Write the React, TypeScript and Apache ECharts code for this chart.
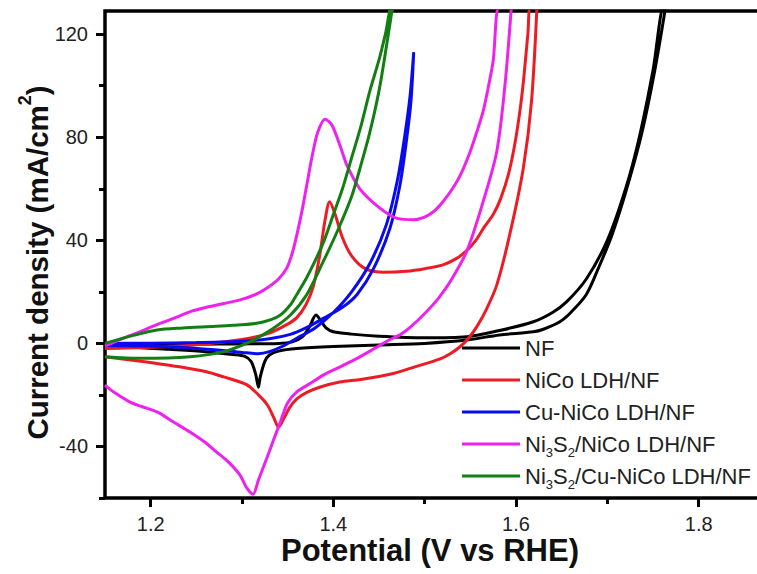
import React, { useEffect, useRef } from "react";
import * as echarts from "echarts";

const seriesNames = [
  "NF",
  "NiCo LDH/NF",
  "Cu-NiCo LDH/NF",
  "Ni3S2/NiCo LDH/NF",
  "Ni3S2/Cu-NiCo LDH/NF",
];
const seriesColors = ["#000000", "#ec1c24", "#0a0aee", "#ee22ee", "#137f13"];

const xLabelValues = [1.2, 1.4, 1.6, 1.8];
const xMinorTicks = [1.3, 1.5, 1.7];
const yLabelValues = [-40, 0, 40, 80, 120];
const yMinorTicks = [-60, -20, 20, 60, 100];

const nfCurve: [number, number][] = [
  [1.15, -0.5], [1.2, -0.4], [1.25, -0.3], [1.3, -0.2], [1.34, 0], [1.355, 0.6], [1.366, 2.5],
  [1.374, 6.5], [1.381, 11], [1.386, 9], [1.392, 6], [1.4, 4.5], [1.42, 3.6], [1.45, 2.8],
  [1.5, 2.2], [1.546, 2.6], [1.582, 5], [1.619, 8.4], [1.64, 12], [1.655, 16], [1.677, 25],
  [1.7, 40], [1.72, 60], [1.735, 80], [1.75, 106], [1.762, 131],
  [1.764, 131], [1.752, 106], [1.738, 82], [1.722, 61], [1.705, 42], [1.69, 29], [1.677, 19],
  [1.66, 12], [1.648, 8.4], [1.63, 5.5], [1.619, 4.5], [1.582, 3.3], [1.546, 1.3], [1.5, 0],
  [1.45, -0.6], [1.4, -1.2], [1.36, -2], [1.34, -3], [1.33, -4.5], [1.325, -7], [1.32, -13],
  [1.318, -17], [1.315, -12], [1.31, -7], [1.303, -5], [1.29, -4.3], [1.26, -3.2], [1.22, -2.3],
  [1.18, -1.5], [1.15, -1.2],
];

const nicoCurve: [number, number][] = [
  [1.15, -2], [1.2, -1.5], [1.25, -0.5], [1.3, 1.5], [1.33, 4], [1.35, 7.5], [1.36, 10],
  [1.37, 15], [1.378, 22], [1.385, 34], [1.391, 48], [1.396, 55], [1.402, 50], [1.41, 41],
  [1.42, 34], [1.435, 29], [1.455, 27.6], [1.48, 28], [1.5, 29], [1.52, 30.5], [1.535, 33],
  [1.546, 36], [1.556, 40], [1.565, 45], [1.575, 50], [1.583, 56], [1.592, 66], [1.6, 80],
  [1.607, 98], [1.613, 120], [1.616, 131],
  [1.623, 131], [1.617, 94], [1.608, 68], [1.593, 42], [1.579, 22.7], [1.568, 13.5], [1.558, 7],
  [1.548, 2], [1.538, -1.5], [1.528, -4], [1.517, -6], [1.49, -9], [1.462, -12], [1.43, -14],
  [1.407, -15], [1.385, -17], [1.371, -19], [1.36, -21.5], [1.352, -25], [1.346, -29],
  [1.34, -32.5], [1.335, -29], [1.328, -24], [1.318, -20], [1.305, -16], [1.28, -13],
  [1.261, -11], [1.23, -9], [1.207, -7.8], [1.18, -6.5], [1.15, -5.2],
];

const cuNicoCurve: [number, number][] = [
  [1.15, 0], [1.2, 0.1], [1.25, 0.3], [1.3, 0.8], [1.33, 1.8], [1.353, 3.5], [1.37, 6],
  [1.389, 9.7], [1.41, 14], [1.426, 19], [1.444, 29], [1.462, 44.7], [1.473, 61.6], [1.48, 78.5],
  [1.485, 94], [1.488, 113],
  [1.484, 96], [1.478, 80], [1.47, 63], [1.458, 46], [1.44, 31], [1.42, 20], [1.4, 12], [1.38, 6],
  [1.36, 2], [1.345, -1], [1.33, -3.2], [1.318, -4], [1.3, -3.5], [1.27, -2.5], [1.23, -1.5],
  [1.19, -1], [1.15, -0.8],
];

const ni3s2NicoCurve: [number, number][] = [
  [1.15, -1], [1.17, 2], [1.188, 4.5], [1.205, 7], [1.225, 9.7], [1.245, 12.5], [1.261, 14],
  [1.28, 15.5], [1.298, 16.9], [1.315, 19], [1.327, 21.4], [1.34, 25], [1.349, 29.2], [1.355, 35],
  [1.36, 42], [1.366, 52], [1.371, 61.6], [1.377, 73], [1.383, 82], [1.391, 87], [1.398, 85],
  [1.404, 80], [1.41, 74], [1.415, 69], [1.429, 60], [1.451, 52.5], [1.47, 48.5], [1.488, 48],
  [1.5, 49], [1.51, 51.2], [1.52, 55], [1.531, 60.3], [1.54, 66], [1.55, 74.6], [1.557, 82],
  [1.564, 90], [1.57, 100], [1.575, 109.6], [1.582, 131],
  [1.595, 131], [1.588, 100.5], [1.579, 74.6], [1.564, 55], [1.546, 35.7], [1.528, 24],
  [1.515, 17.5], [1.502, 12.3], [1.485, 6.5], [1.473, 3.3], [1.462, 1.5], [1.445, -2],
  [1.426, -5.8], [1.405, -9.5], [1.389, -12.3], [1.375, -15.5], [1.36, -18.8], [1.35, -23],
  [1.342, -30.5], [1.334, -38], [1.327, -44.7], [1.318, -53], [1.312, -58.5], [1.305, -56],
  [1.298, -51.2], [1.285, -46], [1.272, -42.1], [1.258, -38], [1.243, -34.4], [1.225, -30.5],
  [1.207, -26.6], [1.19, -24.5], [1.177, -22.7], [1.16, -19], [1.15, -16.2],
];

const ni3s2CuNicoCurve: [number, number][] = [
  [1.15, 0], [1.18, 3], [1.207, 5.2], [1.235, 6], [1.261, 6.5], [1.29, 7], [1.316, 7.8],
  [1.33, 9], [1.342, 11], [1.353, 15], [1.36, 19], [1.37, 25], [1.38, 32], [1.39, 40],
  [1.40, 50], [1.41, 60], [1.42, 72], [1.43, 84], [1.44, 98], [1.45, 110], [1.457, 120],
  [1.464, 131],
  [1.465, 131], [1.458, 115], [1.45, 98], [1.44, 82], [1.43, 69], [1.42, 57], [1.405, 44],
  [1.389, 31.8], [1.371, 19], [1.353, 11], [1.334, 5.8], [1.309, 0.7], [1.28, -3.2],
  [1.243, -5.2], [1.188, -5.8], [1.15, -5.2],
];

const curves = [nfCurve, nicoCurve, cuNicoCurve, ni3s2NicoCurve, ni3s2CuNicoCurve];

const font = "'Liberation Sans', Arial, Helvetica, sans-serif";

export default function App() {
  const ref = useRef<HTMLDivElement>(null);
  useEffect(() => {
    const chart = echarts.init(ref.current!, null, { renderer: "svg" });
    const tickStyle = { width: 3, color: "#000" };
    const option: any = {
      animation: false,
      backgroundColor: "#fff",
      grid: {
        left: 105,
        top: 11,
        right: -33,
        bottom: 76,
        show: true,
        borderColor: "#000",
        borderWidth: 3.5,
        containLabel: false,
        outerBoundsMode: "none",
      },
      xAxis: [
        {
          type: "value",
          min: 1.15,
          max: 1.9,
          position: "bottom",
          axisLine: { show: false, onZero: false },
          splitLine: { show: false },
          axisTick: { show: true, customValues: xLabelValues, length: 9, lineStyle: tickStyle },
          axisLabel: {
            customValues: xLabelValues,
            margin: 16,
            fontSize: 20,
            color: "#222",
            fontFamily: font,
            formatter: (v: number) => v.toFixed(1),
          },
          name: "Potential (V vs RHE)",
          nameLocation: "middle",
          nameGap: 37,
          nameMoveOverlap: false,
          nameTextStyle: {
            fontSize: 31,
            fontWeight: "bold",
            color: "#111",
            fontFamily: font,
            padding: [0, 35, 0, 0],
          },
        },
        {
          type: "value",
          min: 1.15,
          max: 1.9,
          position: "bottom",
          axisLine: { show: false, onZero: false },
          splitLine: { show: false },
          axisLabel: { show: false },
          axisTick: { show: true, customValues: xMinorTicks, length: 6, lineStyle: tickStyle },
        },
      ],
      yAxis: [
        {
          type: "value",
          min: -60,
          max: 129,
          position: "left",
          axisLine: { show: false, onZero: false },
          splitLine: { show: false },
          axisTick: { show: true, customValues: yLabelValues, length: 9, lineStyle: tickStyle },
          axisLabel: {
            customValues: yLabelValues,
            margin: 17,
            fontSize: 20,
            color: "#222",
            fontFamily: font,
          },
          name: "Current density (mA/cm{sup|2})",
          nameLocation: "middle",
          nameGap: 47,
          nameMoveOverlap: false,
          nameTextStyle: {
            fontSize: 29.5,
            fontWeight: "bold",
            color: "#111",
            fontFamily: font,
            lineHeight: 42,
            padding: [0, 16, 0, 0],
            rich: {
              sup: {
                fontSize: 18,
                lineHeight: 18,
                verticalAlign: "top",
                fontWeight: "bold",
                color: "#111",
                fontFamily: font,
              },
            },
          },
        },
        {
          type: "value",
          min: -60,
          max: 129,
          position: "left",
          axisLine: { show: false, onZero: false },
          splitLine: { show: false },
          axisLabel: { show: false },
          axisTick: { show: true, customValues: yMinorTicks, length: 6, lineStyle: tickStyle },
        },
      ],
      legend: {
        orient: "vertical",
        left: 462,
        top: 333,
        padding: 0,
        itemGap: 2,
        itemWidth: 58,
        itemHeight: 3,
        itemTextGap: 6,
        icon: "rect",
        data: seriesNames,
        formatter: (name: string) => name.replace("Ni3S2", "Ni{sub|3}S{sub|2}"),
        textStyle: {
          fontSize: 22,
          lineHeight: 30,
          color: "#222",
          fontFamily: font,
          rich: {
            sub: {
              fontSize: 13,
              lineHeight: 13,
              verticalAlign: "bottom",
              color: "#222",
              fontFamily: font,
            },
          },
        },
      },
      series: seriesNames.map((n, i) => ({
        type: "line",
        name: n,
        data: curves[i],
        showSymbol: false,
        symbol: "none",
        smooth: 0.3,
        clip: true,
        lineStyle: { width: 3, color: seriesColors[i] },
        itemStyle: { color: seriesColors[i] },
      })),
    };
    chart.setOption(option);
    return () => chart.dispose();
  }, []);
  return (
    <div
      ref={ref}
      style={{ position: "fixed", left: 0, top: 0, width: 757, height: 574 }}
    />
  );
}
